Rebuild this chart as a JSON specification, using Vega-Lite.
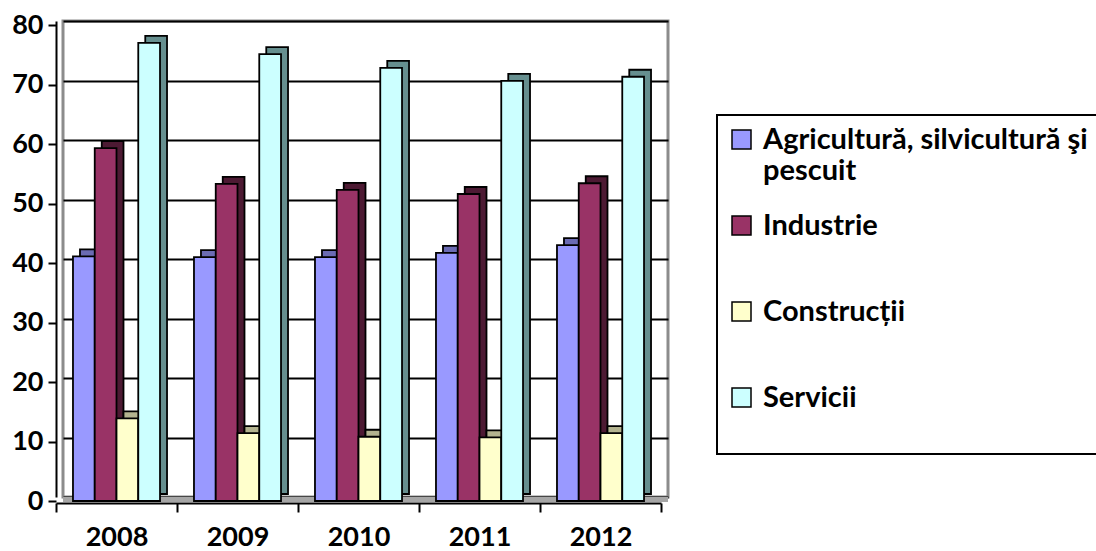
{
  "$schema": "https://vega.github.io/schema/vega-lite/v6.json",
  "width": 605,
  "height": 476,
  "autosize": {"type": "none"},
  "padding": {"left": 63, "top": 21, "right": 428, "bottom": 54},
  "background": "white",
  "config": {
    "view": {"stroke": "#8c8c8c", "strokeWidth": 3},
    "font": "Lato",
    "axis": {
      "labelFont": "Lato", "labelFontWeight": "bold", "labelFontSize": 27, "labelColor": "black",
      "domainColor": "black", "domainWidth": 2, "tickColor": "black", "tickWidth": 2,
      "gridColor": "black", "gridWidth": 2, "title": null
    },
    "legend": {
      "strokeColor": "black", "strokeWidth": 2, "padding": 10, "fillColor": "white",
      "symbolType": "square", "symbolSize": 361, "symbolStrokeColor": "black", "symbolStrokeWidth": 1.5, "symbolOpacity": 1,
      "labelFont": "Lato", "labelFontWeight": "bold", "labelFontSize": 29, "labelColor": "black",
      "labelBaseline": "middle", "labelLineHeight": 32, "labelLimit": 400,
      "rowPadding": 25, "labelOffset": 7
    }
  },
  "data": {
    "values": [
      {"year": "2008", "sector": "Agricultură, silvicultură şi pescuit", "value": 41.1},
      {"year": "2008", "sector": "Industrie", "value": 59.3},
      {"year": "2008", "sector": "Construcții", "value": 13.9},
      {"year": "2008", "sector": "Servicii", "value": 77.0},
      {"year": "2009", "sector": "Agricultură, silvicultură şi pescuit", "value": 41.0},
      {"year": "2009", "sector": "Industrie", "value": 53.3},
      {"year": "2009", "sector": "Construcții", "value": 11.4},
      {"year": "2009", "sector": "Servicii", "value": 75.1},
      {"year": "2010", "sector": "Agricultură, silvicultură şi pescuit", "value": 41.0},
      {"year": "2010", "sector": "Industrie", "value": 52.3},
      {"year": "2010", "sector": "Construcții", "value": 10.8},
      {"year": "2010", "sector": "Servicii", "value": 72.8},
      {"year": "2011", "sector": "Agricultură, silvicultură şi pescuit", "value": 41.7},
      {"year": "2011", "sector": "Industrie", "value": 51.6},
      {"year": "2011", "sector": "Construcții", "value": 10.7},
      {"year": "2011", "sector": "Servicii", "value": 70.6},
      {"year": "2012", "sector": "Agricultură, silvicultură şi pescuit", "value": 43.0},
      {"year": "2012", "sector": "Industrie", "value": 53.4},
      {"year": "2012", "sector": "Construcții", "value": 11.4},
      {"year": "2012", "sector": "Servicii", "value": 71.3}
    ]
  },
  "layer": [
    {
      "transform": [{"aggregate": [{"op": "count", "as": "n"}]}],
      "mark": {"type": "rule", "color": "#a6a6a6", "strokeWidth": 5, "yOffset": 2.5},
      "encoding": {
        "y": {"datum": 0, "type": "quantitative", "scale": {"domain": [0, 80], "nice": false}, "axis": null}
      }
    },
    {
      "mark": {"type": "bar", "stroke": "black", "strokeWidth": 1.8, "yOffset": -3},
      "encoding": {
        "x": {
          "field": "year", "type": "nominal",
          "scale": {"paddingInner": 0, "paddingOuter": 0, "range": [0, 605]},
          "axis": null
        },
        "xOffset": {
          "field": "sector", "type": "nominal",
          "sort": ["Agricultură, silvicultură şi pescuit", "Industrie", "Construcții", "Servicii"],
          "scale": {"paddingInner": 0, "paddingOuter": 0.78}
        },
        "y": {
          "field": "value", "type": "quantitative",
          "scale": {"domain": [0, 80], "nice": false},
          "axis": {"orient": "right", "grid": true, "domain": false, "ticks": false, "labels": false, "values": [0, 10, 20, 30, 40, 50, 60, 70, 80]}
        },
        "color": {
          "field": "sector", "type": "nominal",
          "scale": {"domain": ["Agricultură, silvicultură şi pescuit", "Industrie", "Construcții", "Servicii"], "range": ["#6b6bb3", "#4d1a33", "#b3b38f", "#668f8f"]},
          "legend": null
        }
      }
    },
    {
      "mark": {"type": "bar", "stroke": "black", "strokeWidth": 1.8, "yOffset": 4, "opacity": 1},
      "encoding": {
        "x": {
          "field": "year", "type": "nominal",
          "scale": {"paddingInner": 0, "paddingOuter": 0, "range": [-7, 598]},
          "axis": {"orient": "bottom", "offset": 6, "tickBand": "extent", "tickSize": 9, "labelPadding": 12, "labelAngle": 0}
        },
        "xOffset": {
          "field": "sector", "type": "nominal",
          "sort": ["Agricultură, silvicultură şi pescuit", "Industrie", "Construcții", "Servicii"],
          "scale": {"paddingInner": 0, "paddingOuter": 0.78}
        },
        "y": {
          "field": "value", "type": "quantitative",
          "scale": {"domain": [0, 80], "nice": false},
          "axis": {"orient": "left", "grid": false, "offset": 7, "tickOffset": 4, "tickSize": 8, "labelPadding": 5, "values": [0, 10, 20, 30, 40, 50, 60, 70, 80]}
        },
        "color": {
          "field": "sector", "type": "nominal",
          "scale": {"domain": ["Agricultură, silvicultură şi pescuit", "Industrie", "Construcții", "Servicii"], "range": ["#9999ff", "#993366", "#ffffcc", "#ccffff"]},
          "legend": {
            "orient": "none", "legendX": 654, "legendY": 94, "title": null,
            "labelExpr": "datum.label == 'Agricultură, silvicultură şi pescuit' ? ['Agricultură, silvicultură şi', 'pescuit'] : [datum.label, '']"
          }
        }
      }
    }
  ],
  "resolve": {"axis": {"y": "independent", "x": "independent"}, "scale": {"x": "independent", "color": "independent"}, "legend": {"color": "independent"}}
}
